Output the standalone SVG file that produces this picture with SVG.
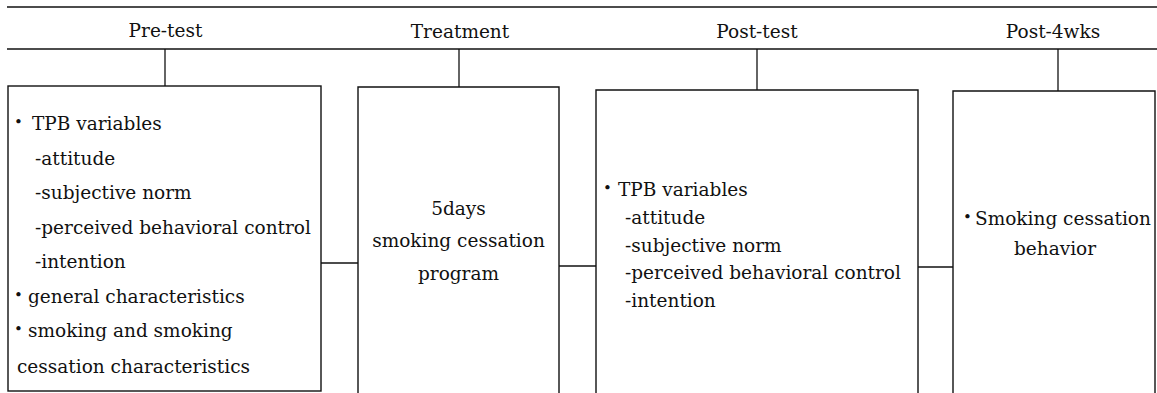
<svg xmlns="http://www.w3.org/2000/svg" width="1157" height="393" viewBox="0 0 1157 393">
<style>
.ln{stroke:#111;stroke-width:1.3;fill:none}
.bx{stroke:#111;stroke-width:1.4;fill:#fff}
.hd{font-family:"DejaVu Serif","Liberation Serif",serif;font-size:18.5px;fill:#111;text-anchor:middle}
.tx{font-family:"DejaVu Serif","Liberation Serif",serif;font-size:18.5px;fill:#111}
.c{text-anchor:middle}
.b{font-size:15px}
</style>
<rect width="1157" height="393" fill="#fff"/>
<g id="header">
<line class="ln" x1="7" y1="7" x2="1157" y2="7" style="stroke-width:1.6"/>
<line class="ln" x1="7" y1="49" x2="1157" y2="49"/>
<text class="hd" x="165.5" y="37">Pre-test</text>
<text class="hd" x="460" y="38">Treatment</text>
<text class="hd" x="757" y="38">Post-test</text>
<text class="hd" x="1053" y="38">Post-4wks</text>
</g>
<g id="connectors">
<line class="ln" x1="165" y1="49" x2="165" y2="86"/>
<line class="ln" x1="459" y1="49" x2="459" y2="87"/>
<line class="ln" x1="757" y1="49" x2="757" y2="90"/>
<line class="ln" x1="1058" y1="49" x2="1058" y2="91"/>
<line class="ln" x1="321" y1="263" x2="358" y2="263"/>
<line class="ln" x1="559" y1="266" x2="596" y2="266"/>
<line class="ln" x1="918" y1="267" x2="953" y2="267"/>
</g>
<g id="pretest">
<rect class="bx" x="8" y="86" width="313" height="305"/>
<text class="tx"><tspan class="b" x="14" y="127">•</tspan><tspan x="32" y="130">TPB variables</tspan></text>
<text class="tx" x="35" y="164.5">-attitude</text>
<text class="tx" x="35" y="199">-subjective norm</text>
<text class="tx" x="35" y="233.5">-perceived behavioral control</text>
<text class="tx" x="35" y="268">-intention</text>
<text class="tx"><tspan class="b" x="14" y="299.5">•</tspan><tspan x="28" y="302.5">general characteristics</tspan></text>
<text class="tx"><tspan class="b" x="14" y="334">•</tspan><tspan x="28" y="337">smoking and smoking</tspan></text>
<text class="tx" x="17" y="372.5">cessation characteristics</text>
</g>
<g id="treatment">
<path class="bx" d="M358,395 V87 H559 V395"/>
<text class="tx c" x="458.5" y="215">5days</text>
<text class="tx c" x="458.5" y="247">smoking cessation</text>
<text class="tx c" x="458.5" y="280">program</text>
</g>
<g id="posttest">
<path class="bx" d="M596,395 V90 H918 V395"/>
<text class="tx"><tspan class="b" x="603" y="193">•</tspan><tspan x="618" y="196">TPB variables</tspan></text>
<text class="tx" x="625" y="224">-attitude</text>
<text class="tx" x="625" y="251.5">-subjective norm</text>
<text class="tx" x="625" y="279">-perceived behavioral control</text>
<text class="tx" x="625" y="307">-intention</text>
</g>
<g id="post4wks">
<path class="bx" d="M953,395 V91 H1155 V395"/>
<text class="tx"><tspan class="b" x="963" y="222">•</tspan><tspan x="975" y="225">Smoking cessation</tspan></text>
<text class="tx c" x="1055" y="255">behavior</text>
</g>
</svg>
